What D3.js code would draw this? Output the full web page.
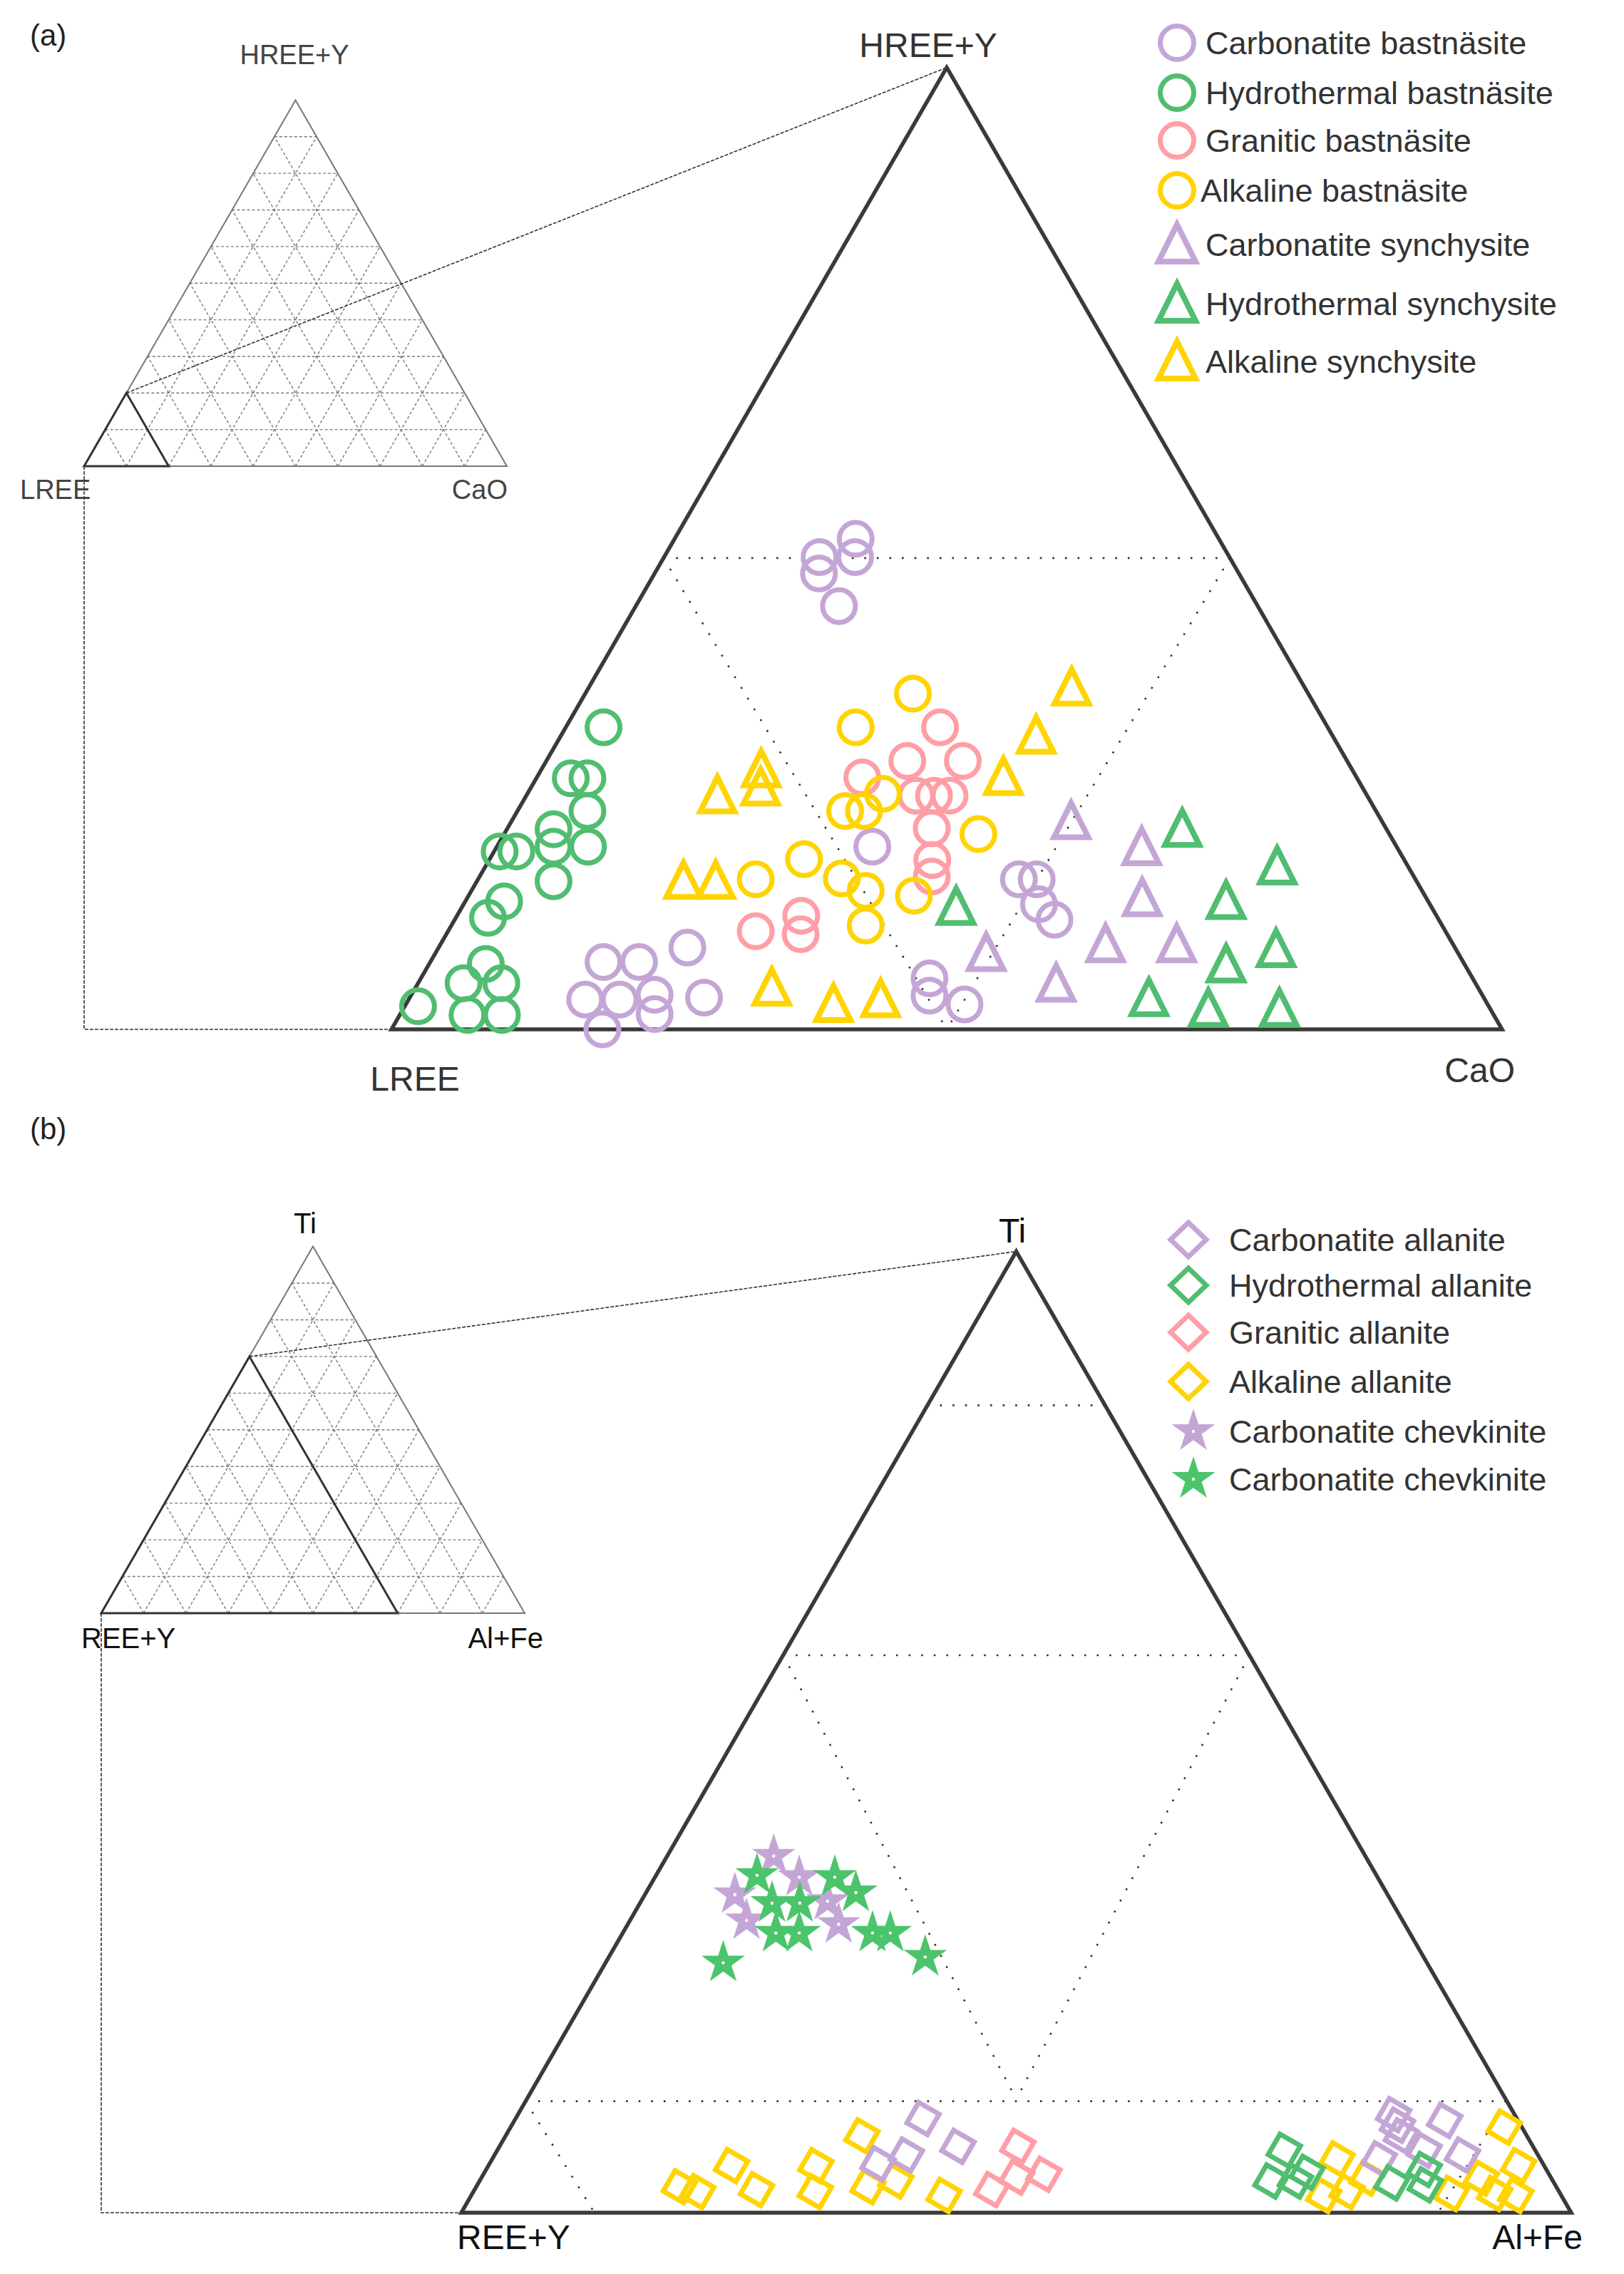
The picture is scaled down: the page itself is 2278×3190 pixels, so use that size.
<!DOCTYPE html>
<html>
<head>
<meta charset="utf-8">
<script src="https://cdn.jsdelivr.net/npm/d3@7"></script>
<style>
  body { margin: 0; background: #fff; }
  text { font-family: "Liberation Sans", Arial, sans-serif; }
</style>
</head>
<body>
<div id="chart"></div>
<script>
// ---- panel (a) data: [LREE, HREE+Y, CaO] in %
const carbonatiteBastnasite = [
  [36.9,49.1,14.0],[32.7,51.0,16.3],[33.7,49.1,17.2],[37.8,47.4,14.8],[37.7,44.0,18.3],
  [77.4,7.0,15.6],[74.2,7.0,18.8],[81.0,3.1,15.9],[77.9,3.1,19.0],[74.5,3.6,21.9],
  [75.5,1.6,22.9],[81.0,0.0,19.0],[69.1,8.5,22.4],[70.2,3.3,26.5],[47.2,19.0,33.8],
  [48.9,5.3,45.8],[49.8,3.5,46.7],[47.1,2.6,50.3],[35.7,15.6,48.7],[34.1,15.6,50.3],
  [35.2,13.0,51.8],[34.6,11.4,54.0]
];
const hydrothermalBastnasite = [
  [65.2,31.4,3.4],[70.8,26.1,3.1],[69.3,26.1,4.6],[75.0,20.8,4.2],[71.0,22.7,6.3],
  [75.9,19.0,5.1],[72.8,19.0,8.2],[81.0,18.5,0.5],[79.5,18.5,2.0],[77.7,15.4,6.9],
  [83.2,13.3,3.5],[85.5,11.6,2.9],[88.1,6.8,5.1],[91.1,4.8,4.1],[87.7,4.8,7.5],
  [92.4,1.5,6.1],[89.3,1.5,9.2],[96.4,2.4,1.2]
];
const graniticBastnasite = [
  [34.9,31.4,33.7],[39.6,27.9,32.5],[34.6,27.9,37.5],[44.5,26.2,29.3],[40.6,24.3,35.1],
  [39.0,24.3,36.7],[37.6,24.3,38.1],[40.9,20.9,38.2],[42.5,17.6,39.9],[43.4,15.9,40.7],
  [62.1,10.2,27.7],[57.2,11.8,31.0],[58.2,9.9,31.9]
];
const alkalineBastnasite = [
  [35.6,34.9,29.5],[42.5,31.4,26.1],[43.5,24.5,32.0],[47.8,22.7,29.5],[46.1,22.7,31.2],
  [54.0,17.7,28.3],[59.4,15.6,25.0],[51.6,15.7,32.7],[50.1,14.4,35.5],[51.9,10.8,37.3],
  [46.0,13.9,40.1],[37.0,20.3,42.7]
];
const carbonatiteSynchysite = [
  [28.0,21.6,50.4],[23.0,18.9,58.1],[25.6,13.6,60.8],[42.5,7.9,49.6],[31.3,8.8,59.9],
  [24.9,8.8,66.3],[37.8,4.7,57.5]
];
const hydrothermalSynchysite = [
  [18.4,20.8,60.8],[11.8,16.9,71.3],[42.8,12.7,44.5],[18.2,13.3,68.5],[16.2,8.3,75.5],
  [21.5,6.7,71.8],[30.2,3.2,66.6],[25.4,2.1,72.5],[19.0,2.1,78.9]
];
const alkalineSynchysite = [
  [58.5,24.3,17.2],[53.2,27.0,19.8],[54.2,25.1,20.7],[66.0,15.4,18.6],[63.1,15.4,21.5],
  [63.6,4.3,32.1],[58.9,2.6,38.5],[54.4,3.1,42.5],[21.0,35.5,43.5],[26.7,30.5,42.8],
  [31.8,26.2,42.0]
];

// ---- panel (b) data: [REE+Y, Ti, Al+Fe] in %
const carbonatiteAllanite = [
  [53.5,9.8,36.7],[59.9,5.1,35.0],[56.9,6.0,37.1],[51.8,6.9,41.3],
  [10.9,10.2,78.9],[11.1,9.1,79.8],[11.3,8.0,80.7],[6.6,9.6,83.8],[14.5,5.6,79.9],
  [10.0,6.5,83.5],[6.8,6.0,87.2]
];
const hydrothermalAllanite = [
  [22.6,6.5,70.9],[25.4,3.3,71.3],[23.2,3.3,73.5],[21.7,4.2,74.1],[14.6,3.1,82.3],
  [11.0,4.5,84.5],[11.7,2.9,85.4]
];
const graniticAllanite = [
  [46.4,6.9,46.7],[51.0,2.4,46.6],[48.1,3.7,48.2],[45.5,4.0,50.5]
];
const alkalineAllanite = [
  [79.0,2.7,18.3],[77.6,2.2,20.2],[73.2,4.9,21.9],[72.2,2.4,25.4],[65.6,4.9,29.5],
  [67.0,2.2,30.8],[59.9,8.0,32.1],[62.0,2.7,35.3],[59.2,3.3,37.5],[55.6,1.8,42.6],
  [18.3,5.6,76.1],[21.4,1.8,76.8],[19.1,2.2,78.7],[16.6,3.6,79.8],[9.8,2.0,88.2],
  [6.3,3.6,90.1],[1.6,8.9,89.5],[2.3,4.9,92.8],[5.9,2.0,92.1],[4.1,1.8,94.1]
];
const chevkinitePurple = [
  [53.3,37.1,9.6],[52.1,34.9,13.0],[58.8,33.1,8.1],[59.1,30.4,10.5],[50.8,32.4,16.8],
  [51.0,30.0,19.0]
];
const chevkiniteGreen = [
  [55.8,35.1,9.1],[55.9,32.2,11.9],[53.4,32.2,14.4],[48.9,34.9,16.2],[47.8,33.3,18.9],
  [57.1,29.1,13.8],[55.0,29.1,15.9],[48.4,29.1,22.5],[46.8,29.1,24.1],[63.4,26.0,10.6],
  [44.9,26.6,28.5]
];

// field boundaries (dotted), as compositions
const fieldLinesA = [
  [[51,49,0],[0,49,51]],
  [[51,49,0],[50,0,50]],
  [[0,49,51],[50,0,50]]
];
const fieldLinesB = [
  [[16,84,0],[0,84,16]],
  [[42,58,0],[0,58,42]],
  [[42,58,0],[44.1,11.8,44.1]],
  [[0,58,42],[44.1,11.8,44.1]],
  [[88.4,11.6,0],[0,11.6,88.4]],
  [[88.4,11.6,0],[88,0,12]],
  [[0,11.6,88.4],[12,0,88]]
];

const legendNamesA = ["Carbonatite bastnäsite","Hydrothermal bastnäsite","Granitic bastnäsite",
  "Alkaline bastnäsite","Carbonatite synchysite","Hydrothermal synchysite","Alkaline synchysite"];
const legendNamesB = ["Carbonatite allanite","Hydrothermal allanite","Granitic allanite",
  "Alkaline allanite","Carbonatite chevkinite","Carbonatite chevkinite"];

const PURPLE = "#c4a6d6", GREEN = "#50bd70", PINK = "#ff9ea6", YELLOW = "#ffd400";
const STAR_GREEN = "#4cc46c";

const W = 2278, H = 3190;
const FONT_DARK = "#333";

const svg = d3.select("#chart").append("svg")
  .attr("width", W).attr("height", H);

function ternary(left, right, base) {
  const h = (right - left) * Math.sqrt(3) / 2;
  const x = d3.scaleLinear().domain([0, 100]).range([left, right]);
  const y = d3.scaleLinear().domain([0, 100]).range([base, base - h]);
  const p = d => [x(d[2] + d[1] / 2), y(d[1])];
  p.base = base; p.left = left;
  return p;
}
const line = d3.line();

function outline(g, proj, stroke, width) {
  g.append("path")
    .attr("d", line([[100,0,0],[0,100,0],[0,0,100]].map(proj)) + "Z")
    .attr("fill", "none").attr("stroke", stroke).attr("stroke-width", width)
    .attr("stroke-linejoin", "miter");
}

function inset(g, proj, subFrac) {
  const ticks = d3.range(10, 100, 10);
  const grid = [];
  ticks.forEach(v => {
    grid.push([[100 - v, v, 0], [0, v, 100 - v]]);
    grid.push([[100 - v, 0, v], [0, 100 - v, v]]);
    grid.push([[v, 0, 100 - v], [v, 100 - v, 0]]);
  });
  g.selectAll(".grid").data(grid).enter().append("path")
    .attr("d", d => line(d.map(proj)))
    .attr("fill", "none").attr("stroke", "#7a7a7a")
    .attr("stroke-width", 1.4).attr("stroke-dasharray", "4,3");
  outline(g, proj, "#777", 2);
  // zoomed part, closed
  g.append("path")
    .attr("d", line([[100 - subFrac, subFrac, 0],[100,0,0],[100 - subFrac, 0, subFrac]].map(proj)) + "Z")
    .attr("fill", "none").attr("stroke", "#333").attr("stroke-width", 3);
}

function connectors(g, small, big, subFrac) {
  g.append("path")
    .attr("d", line([small([100 - subFrac, subFrac, 0]), big([0,100,0])]))
    .attr("fill", "none").attr("stroke", "#333").attr("stroke-width", 1.6)
    .attr("stroke-dasharray", "5,2");
  const bl = small([100,0,0]);
  g.append("path")
    .attr("d", line([bl, [bl[0], big.base], big([100,0,0])]))
    .attr("fill", "none").attr("stroke", "#333").attr("stroke-width", 1.6)
    .attr("stroke-dasharray", "5,2");
}

function fieldLines(g, proj, lines) {
  g.selectAll(".field").data(lines).enter().append("path")
    .attr("d", d => line(d.map(proj)))
    .attr("fill", "none").attr("stroke", "#333")
    .attr("stroke-width", 2.6).attr("stroke-dasharray", "2.6,15")
    .attr("stroke-linecap", "butt");
}

const TRI = "M0,-26L24,22L-24,22Z";
const TRI_LEG = "M0,-28L26,24L-26,24Z";
const DIAMOND = d3.symbol(d3.symbolSquare, 1100)();
const DIAMOND_LEG = "M0,-24L25,0L0,24L-25,0Z";
const STAR = d3.symbol(d3.symbolStar, 1150)();
const STAR_LEG = d3.symbol(d3.symbolStar, 1150)();

function circles(g, proj, data, color) {
  g.selectAll(null).data(data).enter().append("circle")
    .attr("cx", d => proj(d)[0]).attr("cy", d => proj(d)[1])
    .attr("r", 23).attr("fill", "none")
    .attr("stroke", color).attr("stroke-width", 7);
}
function shapes(g, proj, data, color, path, rot, width) {
  g.selectAll(null).data(data).enter().append("path")
    .attr("d", path)
    .attr("transform", d => `translate(${proj(d)})rotate(${rot})`)
    .attr("fill", "none").attr("stroke", color)
    .attr("stroke-width", width).attr("stroke-linejoin", "miter");
}
function stars(g, proj, data, color) {
  const s = g.selectAll(null).data(data).enter().append("g")
    .attr("transform", d => `translate(${proj(d)})`);
  s.append("path").attr("d", STAR).attr("fill", color);
  s.append("circle").attr("r", 2.2).attr("fill", "#fff");
}

function label(g, txt, x, y, size, anchor, color) {
  g.append("text").attr("x", x).attr("y", y)
    .attr("font-size", size).attr("text-anchor", anchor)
    .attr("fill", color).text(txt);
}

// =============== panel (a) ===============
const gA = svg.append("g");
const insetA = ternary(118, 711, 654);
const mainA = ternary(549, 2107, 1444);

label(gA, "(a)", 42, 64, 42, "start", "#222");
inset(gA, insetA, 20);
connectors(gA, insetA, mainA, 20);
label(gA, "HREE+Y", 413, 90, 38, "middle", "#444");
label(gA, "LREE", 28, 700, 38, "start", "#444");
label(gA, "CaO", 712, 700, 38, "end", "#444");

fieldLines(gA, mainA, fieldLinesA);
outline(gA, mainA, "#3a3a3a", 5.5);
label(gA, "HREE+Y", 1302, 80, 48, "middle", FONT_DARK);
label(gA, "LREE", 582, 1530, 48, "middle", FONT_DARK);
label(gA, "CaO", 2125, 1518, 48, "end", FONT_DARK);

circles(gA, mainA, hydrothermalBastnasite, GREEN);
circles(gA, mainA, carbonatiteBastnasite, PURPLE);
circles(gA, mainA, graniticBastnasite, PINK);
circles(gA, mainA, alkalineBastnasite, YELLOW);
shapes(gA, mainA, alkalineSynchysite, YELLOW, TRI, 0, 8);
shapes(gA, mainA, carbonatiteSynchysite, PURPLE, TRI, 0, 8);
shapes(gA, mainA, hydrothermalSynchysite, GREEN, TRI, 0, 8);

// legend (a)
const legRowsA = [60, 130, 197, 267, 343, 426, 507];
const legColorsA = [PURPLE, GREEN, PINK, YELLOW, PURPLE, GREEN, YELLOW];
const legA = gA.append("g");
legendNamesA.forEach((name, i) => {
  const y = legRowsA[i];
  if (i < 4) {
    legA.append("circle").attr("cx", 1651).attr("cy", y).attr("r", 23.5)
      .attr("fill", "none").attr("stroke", legColorsA[i]).attr("stroke-width", 7);
  } else {
    legA.append("path").attr("d", TRI_LEG).attr("transform", `translate(1651,${y})`)
      .attr("fill", "none").attr("stroke", legColorsA[i]).attr("stroke-width", 8);
  }
  label(legA, name, i === 3 ? 1684 : 1691, y + 16, 45, "start", FONT_DARK);
});

// =============== panel (b) ===============
const gB = svg.append("g");
const insetB = ternary(142, 736, 2263);
const mainB = ternary(647, 2204, 3104);

label(gB, "(b)", 42, 1598, 42, "start", "#222");
inset(gB, insetB, 70);
connectors(gB, insetB, mainB, 70);
label(gB, "Ti", 428, 1730, 40, "middle", "#111");
label(gB, "REE+Y", 114, 2312, 40, "start", "#111");
label(gB, "Al+Fe", 762, 2312, 40, "end", "#111");

fieldLines(gB, mainB, fieldLinesB);
outline(gB, mainB, "#3a3a3a", 5.5);
label(gB, "Ti", 1420, 1743, 48, "middle", "#111");
label(gB, "REE+Y", 641, 3155, 48, "start", "#111");
label(gB, "Al+Fe", 2220, 3155, 48, "end", "#111");

shapes(gB, mainB, alkalineAllanite, YELLOW, DIAMOND, 30, 7);
shapes(gB, mainB, carbonatiteAllanite, PURPLE, DIAMOND, 30, 7);
shapes(gB, mainB, hydrothermalAllanite, GREEN, DIAMOND, 30, 7);
shapes(gB, mainB, graniticAllanite, PINK, DIAMOND, 30, 7);
stars(gB, mainB, chevkinitePurple, PURPLE);
stars(gB, mainB, chevkiniteGreen, STAR_GREEN);

// legend (b)
const legRowsB = [1739, 1803, 1869, 1938, 2008, 2075];
const legColorsB = [PURPLE, GREEN, PINK, YELLOW, PURPLE, STAR_GREEN];
const legB = gB.append("g");
legendNamesB.forEach((name, i) => {
  const y = legRowsB[i];
  if (i < 4) {
    legB.append("path").attr("d", DIAMOND_LEG).attr("transform", `translate(1667,${y})`)
      .attr("fill", "none").attr("stroke", legColorsB[i]).attr("stroke-width", 7);
  } else {
    const s = legB.append("g").attr("transform", `translate(1674,${y})`);
    s.append("path").attr("d", STAR_LEG).attr("fill", legColorsB[i]);
    s.append("circle").attr("r", 2.2).attr("fill", "#fff");
  }
  label(legB, name, 1724, y + 16, 45, "start", FONT_DARK);
});
</script>
</body>
</html>
